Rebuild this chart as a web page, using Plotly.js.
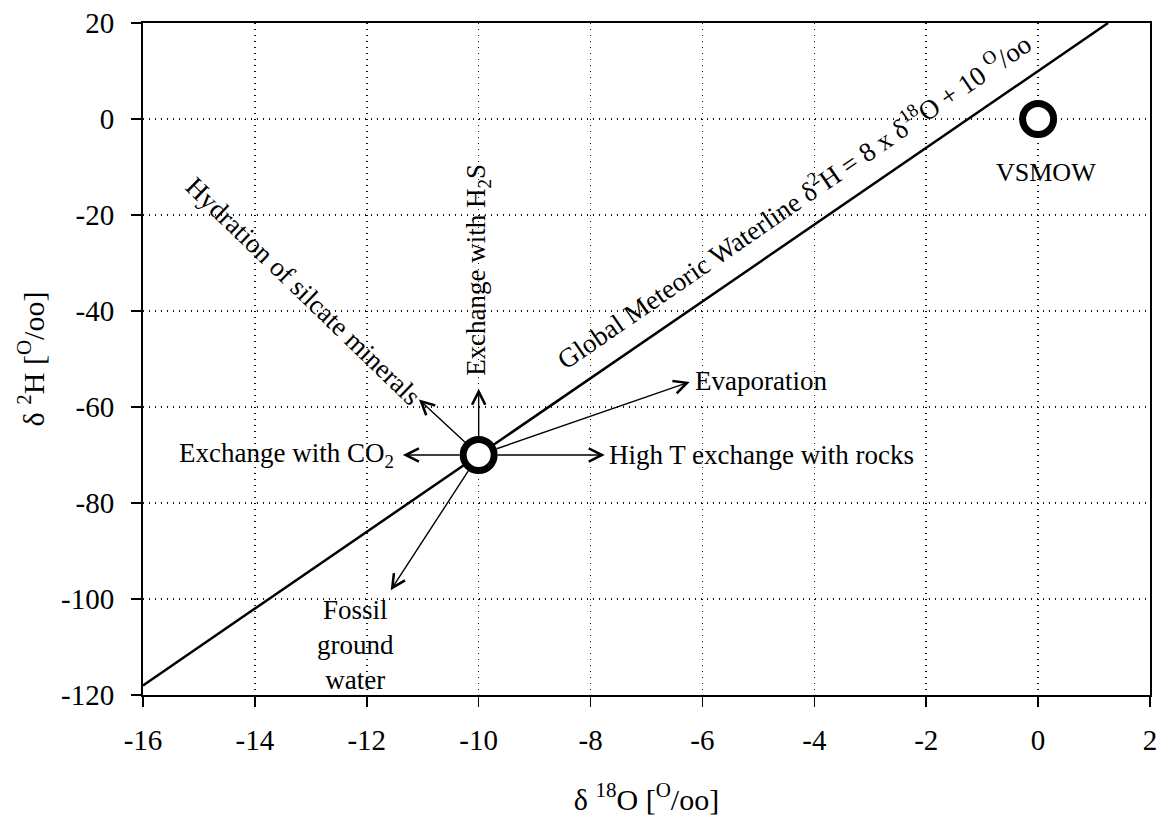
<!DOCTYPE html>
<html>
<head>
<meta charset="utf-8">
<script src="https://cdn.plot.ly/plotly-3.0.1.min.js"></script>
<style>
  html, body { margin: 0; padding: 0; background: #fff; }
  #chart { width: 1168px; height: 823px; }
</style>
</head>
<body>
<div id="chart"></div>
<script>
// ---- Data ----
// Global Meteoric Water Line end points (δ18O, δ2H)
const gmwlX = [-16, 1.25];
const gmwlY = [-118, 20];

// Open circles: sample water and VSMOW
const pointX = [-10, 0];
const pointY = [-70, 0];

// Process arrows: they start at the sample point and point at their labels
const arrowOriginX = -10;
const arrowOriginY = -70;
const arrowLabels = [
  'Exchange with CO<sub>2</sub>',
  'Hydration of silcate minerals',
  'Exchange with H<sub>2</sub>S',
  'Evaporation',
  'High T exchange with rocks',
  'Fossil<br>ground<br>water'
];
// label anchor positions (the arrow ends at the label box)
const labelX = [-11.48, -13.14, -10.0, -6.16, -7.71, -12.21];
const labelY = [-70.0, -35.9, -31.5, -54.5, -70.0, -109.6];

// Other text labels
const vsmowLabel = 'VSMOW';
const vsmowLabelX = 0.14;
const vsmowLabelY = -11.1;
const gmwlLabel = 'Global Meteoric Waterline \u03b4<sup>2</sup>H = 8 x \u03b4<sup>18</sup>O + 10 <sup>O</sup>/oo';
const gmwlLabelX = -4.38;
const gmwlLabelY = -16.8;

// Axes
const xTickVals = [-16, -14, -12, -10, -8, -6, -4, -2, 0, 2];
const xTickText = ['-16', '-14', '-12', '-10', '-8', '-6', '-4', '-2', '0', '2'];
const yTickVals = [-120, -100, -80, -60, -40, -20, 0, 20];
const yTickText = ['-120', '-100', '-80', '-60', '-40', '-20', '0', '20'];
const xTitle = '\u03b4 <sup>18</sup>O [<sup>O</sup>/oo]';
const yTitle = '\u03b4 <sup>2</sup>H [<sup>O</sup>/oo]';

// ---- Styling ----
const FONT = "'Liberation Serif', 'Times New Roman', Times, serif";
const textAngles = [0, 44, -90, 0, 0, 0];
const xAnchors = ['right', 'center', 'center', 'left', 'left', 'center'];
const headGaps = [7, 0, 11, 4, 2, 4];

const traces = [
  {
    x: gmwlX, y: gmwlY, type: 'scatter', mode: 'lines',
    line: { color: '#000', width: 2.5 },
    hoverinfo: 'skip', showlegend: false
  },
  {
    x: pointX, y: pointY, type: 'scatter', mode: 'markers',
    marker: { symbol: 'circle', size: 31, color: '#fff', line: { color: '#000', width: 7 } },
    hoverinfo: 'skip', showlegend: false
  }
];

const annotations = [];
for (let i = 0; i < arrowLabels.length; i++) {
  annotations.push({
    x: arrowOriginX, y: arrowOriginY, xref: 'x', yref: 'y',
    ax: labelX[i], ay: labelY[i], axref: 'x', ayref: 'y',
    text: arrowLabels[i], showarrow: true,
    arrowside: 'start', arrowhead: 0, startarrowhead: 5,
    startarrowsize: 1.85, arrowsize: 1, arrowwidth: 1.4, arrowcolor: '#000',
    standoff: 19, startstandoff: headGaps[i],
    textangle: textAngles[i], xanchor: xAnchors[i], yanchor: 'middle',
    font: { family: FONT, size: 27, color: '#000' }
  });
}
annotations.push({
  x: vsmowLabelX, y: vsmowLabelY, xref: 'x', yref: 'y',
  text: vsmowLabel, showarrow: false, xanchor: 'center', yanchor: 'middle',
  font: { family: FONT, size: 26, color: '#000' }
});
annotations.push({
  x: gmwlLabelX, y: gmwlLabelY, xref: 'x', yref: 'y',
  text: gmwlLabel, showarrow: false, textangle: -34.5,
  xanchor: 'center', yanchor: 'middle',
  font: { family: FONT, size: 27, color: '#000' }
});

const axisCommon = {
  showline: true, linecolor: '#000', linewidth: 2, mirror: true,
  ticks: 'outside', ticklen: 10, tickwidth: 1.5, tickcolor: '#000',
  showgrid: true, gridcolor: '#111', gridwidth: 1.5, griddash: '1px,5px',
  zeroline: false,
  tickfont: { family: FONT, size: 29, color: '#000' },
  tickmode: 'array'
};

const layout = {
  width: 1168, height: 823,
  paper_bgcolor: '#fff', plot_bgcolor: '#fff',
  font: { family: FONT, color: '#000' },
  margin: { l: 143, r: 18, t: 23, b: 128 },
  showlegend: false,
  xaxis: Object.assign({}, axisCommon, {
    range: [-16, 2], tickvals: xTickVals, ticktext: xTickText,
    ticklabelstandoff: 8,
    title: { text: xTitle, font: { family: FONT, size: 30, color: '#000' }, standoff: 34 }
  }),
  yaxis: Object.assign({}, axisCommon, {
    range: [-120, 20], tickvals: yTickVals, ticktext: yTickText,
    ticklabelstandoff: 11,
    title: { text: yTitle, font: { family: FONT, size: 30, color: '#000' }, standoff: 8 }
  }),
  annotations: annotations
};

Plotly.newPlot('chart', traces, layout, { staticPlot: true, displayModeBar: false });
</script>
</body>
</html>
